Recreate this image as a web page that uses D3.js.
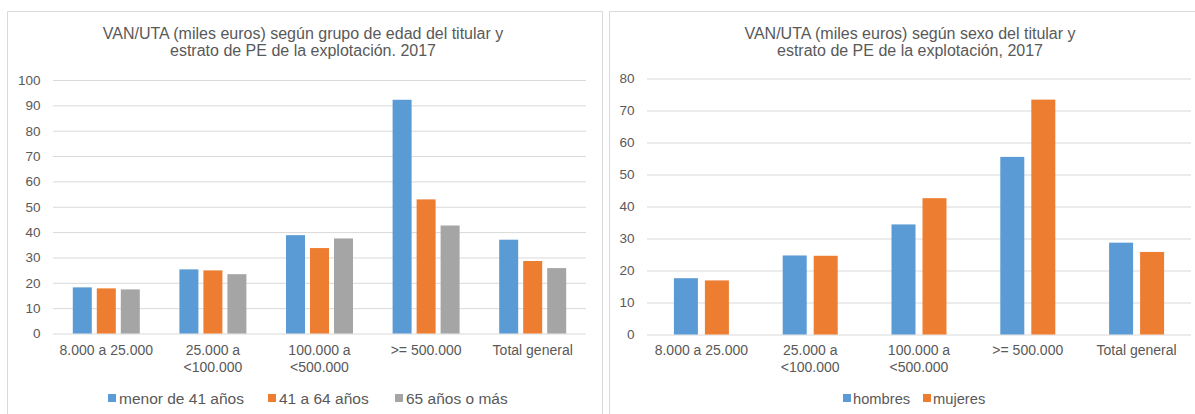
<!DOCTYPE html>
<html>
<head>
<meta charset="utf-8">
<script src="https://cdn.jsdelivr.net/npm/d3@7"></script>
<style>
  body { margin: 0; background: #fff; }
  svg text { font-family: "Liberation Sans", Arial, sans-serif; fill: #595959; }
</style>
</head>
<body>
<svg id="chart" width="1195" height="414"></svg>
<script>
// categories shared by both charts
const estratos = [["8.000 a 25.000"], ["25.000 a", "<100.000"], ["100.000 a", "<500.000"], [">= 500.000"], ["Total general"]];

// left chart: por grupo de edad
const edadSeries = ["menor de 41 años", "41 a 64 años", "65 años o más"];
const menor41 = [18.2, 25.3, 38.8, 92.2, 37.0];
const de41a64 = [17.8, 24.9, 33.7, 52.9, 28.6];
const mas65 = [17.4, 23.4, 37.5, 42.6, 25.8];
const edadTicks = [0, 10, 20, 30, 40, 50, 60, 70, 80, 90, 100];

// right chart: por sexo
const sexoSeries = ["hombres", "mujeres"];
const hombres = [17.6, 24.7, 34.4, 55.5, 28.7];
const mujeres = [16.9, 24.6, 42.6, 73.4, 25.8];
const sexoTicks = [0, 10, 20, 30, 40, 50, 60, 70, 80];

const colors = ["#5B9BD5", "#ED7D31", "#A5A5A5"];

const svg = d3.select("#chart");

// chart frames
svg.append("path")
    .attr("d", "M7.5,414 V11.5 H602.5 V414")
    .attr("fill", "none").attr("stroke", "#D9D9D9");
svg.append("path")
    .attr("d", "M609.5,414 V11.5 H1195")
    .attr("fill", "none").attr("stroke", "#D9D9D9");

function drawChart(o) {
    const g = svg.append("g");
    const x = d3.scaleBand().domain(d3.range(estratos.length)).range([o.left, o.right]);
    const y = d3.scaleLinear().domain([0, d3.max(o.ticks)]).range([o.bottom, o.top]);

    // title
    const t = g.append("text").attr("text-anchor", "middle").style("font-size", "16px");
    o.title.forEach((line, i) => {
        t.append("tspan").attr("x", o.titleX).attr("y", 38.5 + i * 17.5).text(line);
    });

    // gridlines + y labels
    const yAxis = g.append("g")
        .attr("transform", `translate(${o.left},0)`)
        .call(d3.axisLeft(y).tickValues(o.ticks).tickSize(-(o.right - o.left)).tickPadding(12.5));
    yAxis.select(".domain").remove();
    yAxis.selectAll("line").attr("stroke", "#D9D9D9");
    yAxis.selectAll("text").style("font-size", "13.5px").style("font-family", "Liberation Sans, Arial, sans-serif").attr("fill", "#595959");

    // bars
    const n = o.series.length;
    const groupW = n * o.barW + (n - 1) * o.gap;
    o.series.forEach((vals, s) => {
        g.append("g").selectAll("rect")
            .data(vals)
            .enter()
            .append("rect")
                .attr("x", (d, i) => x(i) + x.bandwidth() / 2 - groupW / 2 + s * (o.barW + o.gap))
                .attr("y", d => y(d))
                .attr("width", o.barW)
                .attr("height", d => y(0) - y(d))
                .attr("fill", colors[s]);
    });

    // x labels
    const xl = g.append("g").selectAll("text")
        .data(estratos)
        .enter()
        .append("text")
            .attr("text-anchor", "middle")
            .style("font-size", "14px");
    xl.each(function(lines, i) {
        lines.forEach((line, k) => {
            d3.select(this).append("tspan")
                .attr("x", x(i) + x.bandwidth() / 2)
                .attr("y", 355 + k * 17)
                .text(line);
        });
    });

    // legend
    o.legendX.forEach((lx, s) => {
        g.append("rect").attr("x", lx).attr("y", 394).attr("width", 8).attr("height", 8).attr("fill", colors[s]);
        g.append("text").attr("x", lx + o.legendGap).attr("y", 403.5).style("font-size", o.legendFont).text(o.names[s]);
    });
}

drawChart({
    title: ["VAN/UTA (miles euros) según grupo de edad del titular y", "estrato de PE de la explotación. 2017"],
    titleX: 303,
    left: 53, right: 586, top: 80, bottom: 333.5,
    ticks: edadTicks,
    series: [menor41, de41a64, mas65],
    names: edadSeries,
    barW: 19, gap: 5,
    legendX: [108, 268, 395], legendGap: 11, legendFont: "15.5px"
});

drawChart({
    title: ["VAN/UTA (miles euros) según sexo del titular y", "estrato de PE de la explotación, 2017"],
    titleX: 910,
    left: 647, right: 1191, top: 78.5, bottom: 334.5,
    ticks: sexoTicks,
    series: [hombres, mujeres],
    names: sexoSeries,
    barW: 24, gap: 7,
    legendX: [843, 923], legendGap: 10, legendFont: "14.7px"
});
</script>
</body>
</html>
